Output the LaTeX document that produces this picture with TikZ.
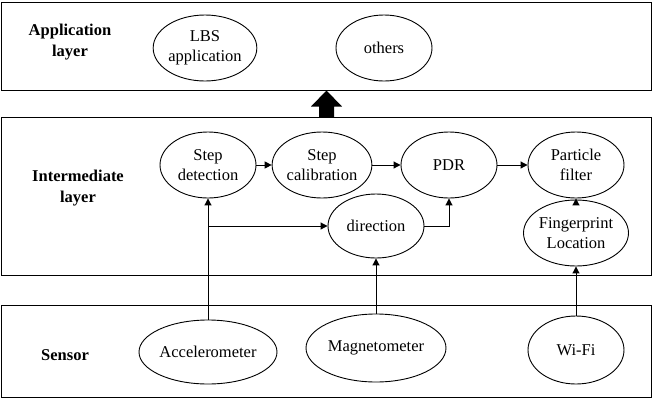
\documentclass[tikz,border=0pt]{standalone}
\usepackage{fontspec}
\setmainfont{Liberation Serif}
\usetikzlibrary{shapes.geometric,arrows.meta}
\begin{document}
\begin{tikzpicture}[x=1pt,y=-1pt,
  every node/.style={font=\fontsize{16.5}{20.5}\selectfont},
  layer/.style={draw=black,line width=1pt},
  oval/.style={draw=black,ellipse,line width=0.9pt,inner sep=0pt,minimum width=96pt,minimum height=66pt,align=center},
  lbl/.style={font=\fontsize{16.5}{21}\selectfont\bfseries,align=center},
  conn/.style={line width=1pt,-{Triangle[length=7pt,width=7pt]}},
  plain/.style={line width=1pt}]
\useasboundingbox (0,0) rectangle (657,400);
% layers
\draw[layer] (1,2) rectangle (651,90);
\draw[layer] (1,117) rectangle (651,275);
\draw[layer] (1,305) rectangle (651,397);
% big arrow
\fill[black] (319,117) -- (319,106.5) -- (311,106.5) -- (326.5,90.5) -- (342,106.5) -- (334,106.5) -- (334,117) -- cycle;
% labels
\node[lbl] (lapp) at (70,42) {Application\\layer};
\node[lbl] (lint) at (78,188) {Intermediate\\layer};
\node[lbl] (lsen) at (65,355) {Sensor};
% application
\node[oval] (lbs) at (205,48) {LBS\\application};
\node[oval] (oth) at (384,48) {others};
% intermediate
\node[oval] (sd) at (208,165) {Step\\detection};
\node[oval] (sc) at (322,165) {Step\\calibration};
\node[oval] (pdr) at (449,165) {PDR};
\node[oval] (pf) at (576,165) {Particle\\filter};
\node[oval,minimum height=64pt] (dir) at (376,226) {direction};
\node[oval] (fp) at (576,233) {Fingerprint\\Location};
% sensors
\node[oval,minimum width=138pt,minimum height=64pt] (acc) at (208,352) {Accelerometer};
\node[oval,minimum width=140pt,minimum height=68pt] (mag) at (376,348) {Magnetometer};
\node[oval,minimum height=68pt] (wifi) at (576,350) {Wi-Fi};
% connectors
\draw[conn] (sd) -- (sc);
\draw[conn] (sc) -- (pdr);
\draw[conn] (pdr) -- (pf);
\draw[conn] (fp) -- (pf);
\draw[conn] (acc.north) -- (sd.south);
\coordinate (br) at (208,226);
\draw[conn] (br) -- (dir.west);
\draw[conn] (dir.east) -| (pdr.south);
\draw[conn] (mag.north) -- (dir.south);
\draw[conn] (wifi.north) -- (fp.south);
\end{tikzpicture}
\end{document}
